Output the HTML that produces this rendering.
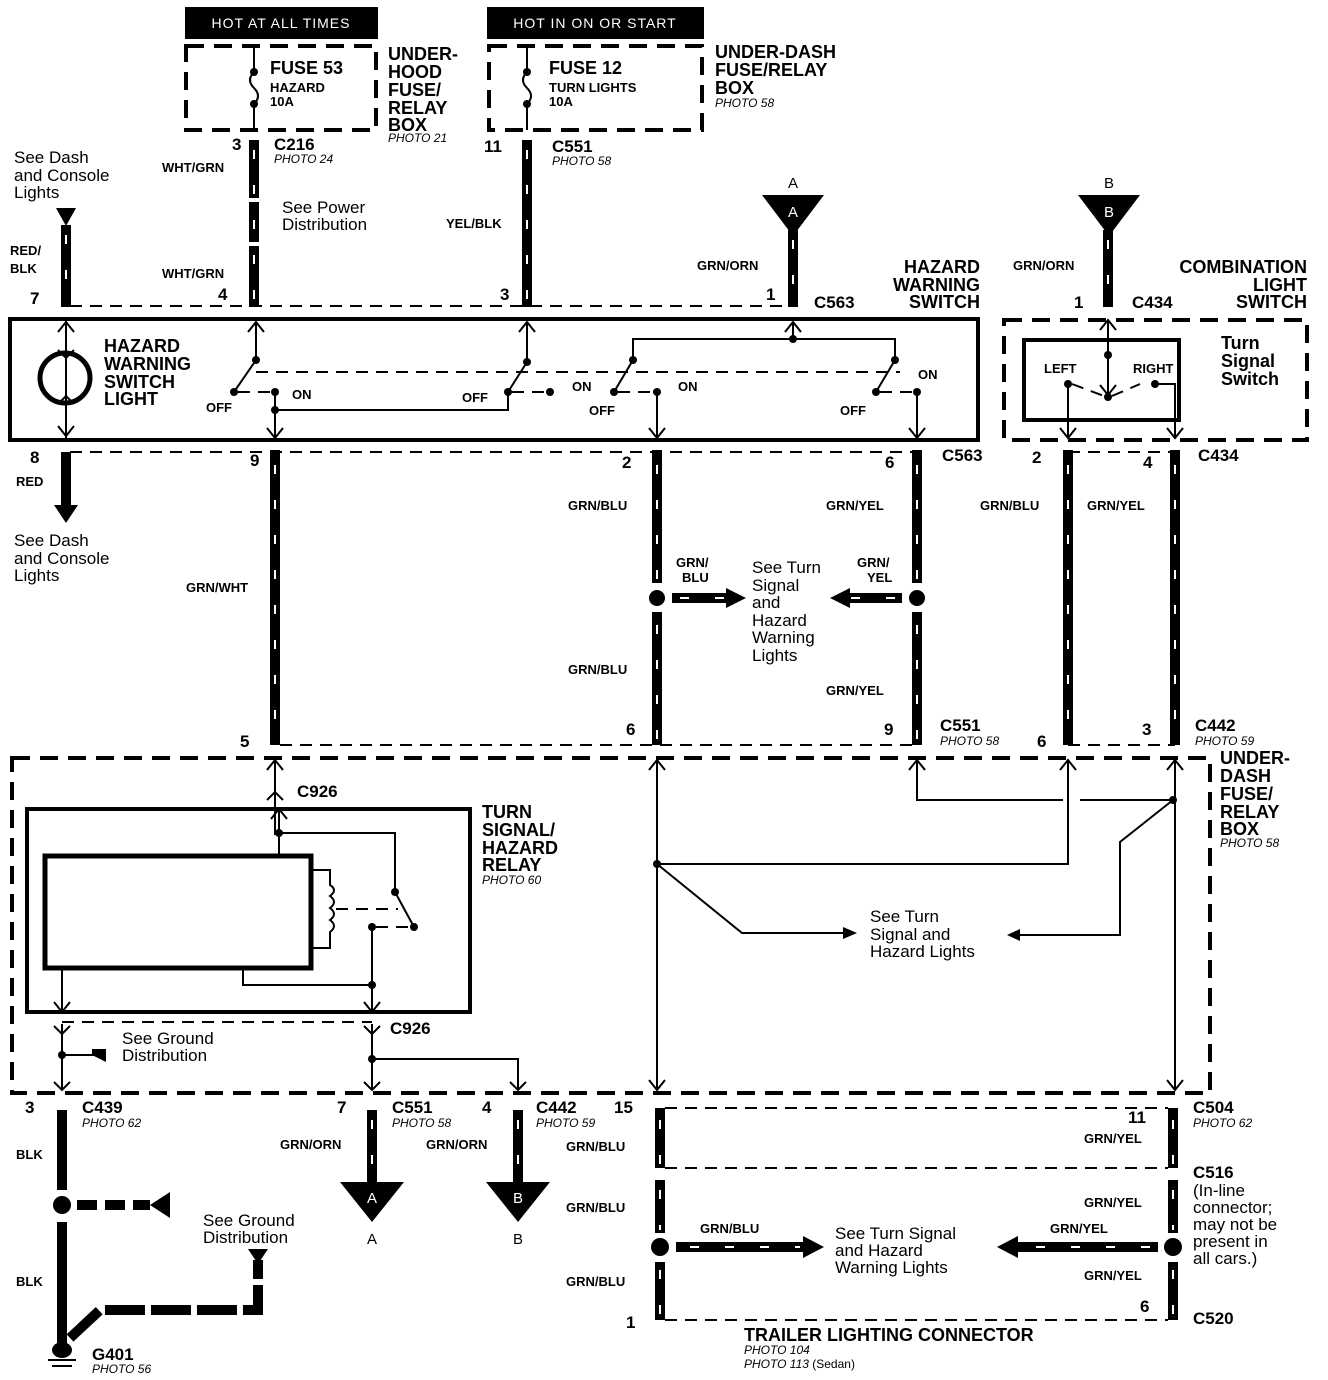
<!DOCTYPE html>
<html><head><meta charset="utf-8"><style>
html,body{margin:0;padding:0;background:#fff;}
svg{display:block;}
text{font-family:"Liberation Sans",Arial,sans-serif;fill:#000;}
.b{font-weight:bold;}
.s{font-size:13px;font-weight:bold;}
.c{font-size:17px;font-weight:bold;}
.p{font-size:12px;font-style:italic;}
.r{font-size:17px;}
.t{font-size:18px;font-weight:bold;}
.w{stroke:#000;stroke-width:10;fill:none;}
.h{stroke:#fff;stroke-width:2;stroke-dasharray:9 26;fill:none;}
.d{stroke:#000;stroke-width:2;stroke-dasharray:12 8;fill:none;}
.bd{stroke:#000;stroke-width:4;stroke-dasharray:18 10;fill:none;}
.l{stroke:#000;stroke-width:2;fill:none;}
</style></head><body>
<svg width="1328" height="1380" viewBox="0 0 1328 1380" xmlns="http://www.w3.org/2000/svg">
<!-- top labels -->
<rect x="185" y="7" width="193" height="32" fill="#000"/>
<text x="281" y="28" text-anchor="middle" font-size="14" style="fill:#fff" letter-spacing="1">HOT AT ALL TIMES</text>
<rect x="487" y="7" width="217" height="32" fill="#000"/>
<text x="595" y="28" text-anchor="middle" font-size="14" style="fill:#fff" letter-spacing="1">HOT IN ON OR START</text>
<rect x="186" y="46" width="190" height="84" class="bd"/>
<rect x="489" y="46" width="213" height="84" class="bd"/>
<path class="l" d="M254 46 V72 Q246 80 254 88 Q262 96 254 104 V130"/>
<circle cx="254" cy="72" r="4"/><circle cx="254" cy="104" r="4"/>
<path class="l" d="M527 46 V72 Q519 80 527 88 Q535 96 527 104 V130"/>
<circle cx="527" cy="72" r="4"/><circle cx="527" cy="104" r="4"/>
<text x="270" y="74" class="t">FUSE 53</text><text x="270" y="92" class="s" font-size="12">HAZARD</text><text x="270" y="106" class="s" font-size="12">10A</text>
<text x="549" y="74" class="t">FUSE 12</text><text x="549" y="92" class="s" font-size="12">TURN LIGHTS</text><text x="549" y="106" class="s" font-size="12">10A</text>
<g class="t"><text x="388" y="60">UNDER-</text><text x="388" y="78">HOOD</text><text x="388" y="96">FUSE/</text><text x="388" y="114">RELAY</text><text x="388" y="131">BOX</text></g>
<text x="388" y="142" class="p">PHOTO 21</text>
<g class="t"><text x="715" y="58">UNDER-DASH</text><text x="715" y="76">FUSE/RELAY</text><text x="715" y="94">BOX</text></g>
<text x="715" y="107" class="p">PHOTO 58</text>

<!-- upper wires -->
<path class="w" d="M66 225 V307"/><path class="h" d="M66 235 V305"/>
<polygon points="56,208 76,208 66,226"/>
<path class="w" d="M254 140 V307"/><path class="h" d="M254 150 V305"/>
<rect x="248" y="198" width="12" height="4" fill="#fff"/><rect x="248" y="242" width="12" height="4" fill="#fff"/>
<path class="w" d="M527 140 V307"/><path class="h" d="M527 150 V305"/>
<path class="w" d="M793 230 V307"/><path class="h" d="M793 240 V305"/>
<polygon points="762,195 824,195 793,236"/><text x="793" y="217" text-anchor="middle" font-size="15" style="fill:#fff">A</text>
<text x="793" y="188" text-anchor="middle" font-size="15">A</text>
<path class="w" d="M1108 230 V307"/><path class="h" d="M1108 240 V305"/>
<polygon points="1078,195 1140,195 1109,236"/><text x="1109" y="217" text-anchor="middle" font-size="15" style="fill:#fff">B</text>
<text x="1109" y="188" text-anchor="middle" font-size="15">B</text>
<text x="14" y="163" class="r">See Dash</text><text x="14" y="181" class="r">and Console</text><text x="14" y="198" class="r">Lights</text>
<text x="10" y="255" class="s">RED/</text><text x="10" y="273" class="s">BLK</text>
<text x="162" y="172" class="s">WHT/GRN</text><text x="162" y="278" class="s">WHT/GRN</text>
<text x="282" y="213" class="r">See Power</text><text x="282" y="230" class="r">Distribution</text>
<text x="446" y="228" class="s">YEL/BLK</text>
<text x="697" y="270" class="s">GRN/ORN</text><text x="1013" y="270" class="s">GRN/ORN</text>
<text x="232" y="150" class="c">3</text><text x="274" y="150" class="c">C216</text><text x="274" y="163" class="p">PHOTO 24</text>
<text x="484" y="152" class="c">11</text><text x="552" y="152" class="c">C551</text><text x="552" y="165" class="p">PHOTO 58</text>
<text x="30" y="304" class="c">7</text><text x="218" y="300" class="c">4</text><text x="500" y="300" class="c">3</text>
<text x="766" y="300" class="c">1</text><text x="814" y="308" class="c">C563</text>
<text x="1074" y="308" class="c">1</text><text x="1132" y="308" class="c">C434</text>
<g class="t" text-anchor="end"><text x="980" y="273">HAZARD</text><text x="980" y="291">WARNING</text><text x="980" y="308">SWITCH</text>
<text x="1307" y="273">COMBINATION</text><text x="1307" y="291">LIGHT</text><text x="1307" y="308">SWITCH</text></g>
<path class="d" d="M70 306 H793"/>
<path class="d" d="M70 452 H917"/>
<path class="d" d="M1068 452 H1175"/>

<!-- hazard switch box -->
<rect x="10" y="319" width="968" height="121" fill="none" stroke="#000" stroke-width="4"/>
<circle cx="65" cy="378" r="25" fill="none" stroke="#000" stroke-width="5"/>
<path class="l" d="M66 319 V440 M58 332 L66 322 L74 332 M58 350 L66 358 L74 350 M58 404 L66 396 L74 404 M58 426 L66 436 L74 426"/>
<text x="104" y="352" class="t">HAZARD</text><text x="104" y="370" class="t">WARNING</text><text x="104" y="388" class="t">SWITCH</text><text x="104" y="405" class="t">LIGHT</text>
<path class="l" d="M256 322 V360 L234 392 M248 332 L256 322 L264 332"/><circle cx="256" cy="360" r="4"/><circle cx="234" cy="392" r="4"/>
<path class="d" d="M238 392 H270"/><circle cx="275" cy="392" r="4"/>
<path class="l" d="M275 392 V438 M267 428 L275 438 L283 428 M275 410 H508 V392"/><circle cx="275" cy="410" r="4"/>
<text x="206" y="412" class="s">OFF</text><text x="292" y="399" class="s">ON</text>
<path class="d" d="M256 372 H900"/>
<path class="l" d="M527 322 V362 L508 392 M519 332 L527 322 L535 332"/><circle cx="527" cy="362" r="4"/><circle cx="508" cy="392" r="4"/>
<path class="d" d="M512 392 H545"/><circle cx="550" cy="392" r="4"/>
<text x="462" y="402" class="s">OFF</text><text x="572" y="391" class="s">ON</text>
<path class="l" d="M793 322 V339 M785 332 L793 322 L801 332 M633 360 V339 H895 V360"/><circle cx="793" cy="339" r="4"/>
<circle cx="633" cy="360" r="4"/><path class="l" d="M633 360 L614 392"/><circle cx="614" cy="392" r="4"/>
<path class="d" d="M618 392 H652"/><circle cx="657" cy="392" r="4"/>
<path class="l" d="M657 392 V438 M649 428 L657 438 L665 428"/>
<text x="589" y="415" class="s">OFF</text><text x="678" y="391" class="s">ON</text>
<circle cx="895" cy="360" r="4"/><path class="l" d="M895 360 L876 392"/><circle cx="876" cy="392" r="4"/>
<path class="d" d="M880 392 H912"/><circle cx="917" cy="392" r="4"/>
<path class="l" d="M917 392 V438 M909 428 L917 438 L925 428"/>
<text x="840" y="415" class="s">OFF</text><text x="918" y="379" class="s">ON</text>

<!-- combination switch -->
<rect x="1004" y="320" width="303" height="120" class="bd"/>
<rect x="1024" y="340" width="155" height="80" fill="none" stroke="#000" stroke-width="4"/>
<path class="l" d="M1108 320 V395 M1100 330 L1108 320 L1116 330 M1100 385 L1108 395 L1116 385"/><circle cx="1108" cy="355" r="4"/><circle cx="1108" cy="397" r="4"/>
<path class="d" d="M1072 384 L1104 396 M1112 396 L1140 384"/>
<circle cx="1068" cy="384" r="4"/><circle cx="1155" cy="384" r="4"/>
<path class="l" d="M1068 384 V438 M1060 428 L1068 438 L1076 428 M1155 384 H1175 V438 M1167 428 L1175 438 L1183 428"/>
<text x="1044" y="373" class="s">LEFT</text><text x="1133" y="373" class="s">RIGHT</text>
<text x="1221" y="349" class="t">Turn</text><text x="1221" y="367" class="t">Signal</text><text x="1221" y="385" class="t">Switch</text>

<!-- middle wires -->
<path class="w" d="M66 452 V508"/><polygon points="54,505 78,505 66,523"/>
<text x="30" y="463" class="c">8</text><text x="16" y="486" class="s">RED</text>
<text x="14" y="546" class="r">See Dash</text><text x="14" y="564" class="r">and Console</text><text x="14" y="581" class="r">Lights</text>
<path class="w" d="M275 450 V745"/><path class="h" d="M275 465 V740"/>
<path class="w" d="M657 450 V583 M657 612 V745"/><path class="h" d="M657 465 V580 M657 625 V740"/>
<circle cx="657" cy="598" r="8"/>
<path class="w" d="M917 450 V583 M917 612 V745"/><path class="h" d="M917 465 V580 M917 625 V740"/>
<circle cx="917" cy="598" r="8"/>
<path class="w" d="M1068 450 V745"/><path class="h" d="M1068 465 V740"/>
<path class="w" d="M1175 450 V745"/><path class="h" d="M1175 465 V740"/>
<path class="w" d="M672 598 H728"/><path class="h" d="M680 598 H725" stroke-dasharray="8 12"/><polygon points="726,588 746,598 726,608"/>
<path class="w" d="M902 598 H848"/><path class="h" d="M895 598 H850" stroke-dasharray="8 12"/><polygon points="850,588 830,598 850,608"/>
<text x="250" y="466" class="c">9</text><text x="622" y="468" class="c">2</text><text x="885" y="468" class="c">6</text><text x="942" y="461" class="c">C563</text>
<text x="1032" y="463" class="c">2</text><text x="1143" y="468" class="c">4</text><text x="1198" y="461" class="c">C434</text>
<text x="568" y="510" class="s">GRN/BLU</text><text x="826" y="510" class="s">GRN/YEL</text>
<text x="980" y="510" class="s">GRN/BLU</text><text x="1087" y="510" class="s">GRN/YEL</text>
<text x="186" y="592" class="s">GRN/WHT</text>
<text x="676" y="567" class="s">GRN/</text><text x="682" y="582" class="s">BLU</text>
<text x="857" y="567" class="s">GRN/</text><text x="867" y="582" class="s">YEL</text>
<text x="752" y="573" class="r">See Turn</text><text x="752" y="591" class="r">Signal</text><text x="752" y="608" class="r">and</text><text x="752" y="626" class="r">Hazard</text><text x="752" y="643" class="r">Warning</text><text x="752" y="661" class="r">Lights</text>
<text x="568" y="674" class="s">GRN/BLU</text><text x="826" y="695" class="s">GRN/YEL</text>
<text x="240" y="747" class="c">5</text><text x="626" y="735" class="c">6</text><text x="884" y="735" class="c">9</text>
<text x="940" y="731" class="c">C551</text><text x="940" y="745" class="p">PHOTO 58</text>
<text x="1037" y="747" class="c">6</text><text x="1142" y="735" class="c">3</text>
<text x="1195" y="731" class="c">C442</text><text x="1195" y="745" class="p">PHOTO 59</text>
<path class="d" d="M280 745 H917"/>
<path class="d" d="M1068 745 H1175"/>

<!-- under-dash box -->
<rect x="12" y="758" width="1198" height="335" class="bd"/>
<g class="t"><text x="1220" y="764">UNDER-</text><text x="1220" y="782">DASH</text><text x="1220" y="800">FUSE/</text><text x="1220" y="818">RELAY</text><text x="1220" y="835">BOX</text></g>
<text x="1220" y="847" class="p">PHOTO 58</text>
<path class="l" d="M275 760 V835 M267 770 L275 760 L283 770 M267 800 L275 792 L283 800"/>
<text x="297" y="797" class="c">C926</text>
<path class="l" d="M657 760 V1090 M649 770 L657 760 L665 770 M649 1080 L657 1090 L665 1080"/>
<path class="l" d="M657 864 H1068 V760 M1060 770 L1068 760 L1076 770"/><circle cx="657" cy="864" r="4"/>
<path class="l" d="M917 760 V800 H1063 M1080 800 H1173 M909 770 L917 760 L925 770"/>
<path class="l" d="M1175 760 V1090 M1167 770 L1175 760 L1183 770 M1167 1080 L1175 1090 L1183 1080"/><circle cx="1173" cy="800" r="4"/>
<path class="l" d="M1173 800 L1120 842 V935 H1018"/><polygon points="1020,929 1007,935 1020,941"/>
<path class="l" d="M657 864 L742 933 H845"/><polygon points="843,927 857,933 843,939"/>
<text x="870" y="922" class="r">See Turn</text><text x="870" y="940" class="r">Signal and</text><text x="870" y="957" class="r">Hazard Lights</text>
<rect x="27" y="809" width="443" height="203" fill="none" stroke="#000" stroke-width="4"/>
<g class="t"><text x="482" y="818">TURN</text><text x="482" y="836">SIGNAL/</text><text x="482" y="854">HAZARD</text><text x="482" y="871">RELAY</text></g>
<text x="482" y="884" class="p">PHOTO 60</text>
<rect x="45" y="856" width="266" height="112" fill="none" stroke="#000" stroke-width="5"/>
<path class="l" d="M279 809 V856 M271 819 L279 809 L287 819 M279 833 H395 V892 L414 927"/><circle cx="279" cy="833" r="4"/><circle cx="395" cy="892" r="4"/><circle cx="414" cy="927" r="4"/>
<path class="l" d="M311 870 H330 V885 Q338 890 330 896 Q338 902 330 908 Q338 914 330 920 Q338 926 330 932 V948 H311"/>
<path class="d" d="M336 909 H398"/>
<circle cx="372" cy="927" r="4"/><path class="d" d="M376 927 H410"/>
<path class="l" d="M372 927 V1012 M243 968 V985 H372 M364 1002 L372 1012 L380 1002"/><circle cx="372" cy="985" r="4"/>
<path class="l" d="M62 968 V1012 M54 1002 L62 1012 L70 1002"/>
<path class="d" d="M62 1022 H372"/>
<path class="l" d="M54 1026 L62 1034 L70 1026 M364 1026 L372 1034 L380 1026 M62 1024 V1090 M372 1024 V1090 M54 1082 L62 1090 L70 1082 M364 1082 L372 1090 L380 1082"/>
<text x="390" y="1034" class="c">C926</text>
<circle cx="62" cy="1055" r="4"/><path class="l" d="M62 1055 H95"/><polygon points="92,1049 106,1049 106,1062 92,1055"/>
<text x="122" y="1044" class="r">See Ground</text><text x="122" y="1061" class="r">Distribution</text>
<path class="l" d="M372 1059 H518 V1090 M510 1082 L518 1090 L526 1082"/><circle cx="372" cy="1059" r="4"/>

<!-- bottom -->
<text x="25" y="1113" class="c">3</text><text x="82" y="1113" class="c">C439</text><text x="82" y="1127" class="p">PHOTO 62</text>
<text x="337" y="1113" class="c">7</text><text x="392" y="1113" class="c">C551</text><text x="392" y="1127" class="p">PHOTO 58</text>
<text x="482" y="1113" class="c">4</text><text x="536" y="1113" class="c">C442</text><text x="536" y="1127" class="p">PHOTO 59</text>
<text x="614" y="1113" class="c">15</text>
<text x="1128" y="1123" class="c">11</text><text x="1193" y="1113" class="c">C504</text><text x="1193" y="1127" class="p">PHOTO 62</text>
<path class="w" d="M62 1110 V1190 M62 1222 V1345"/>
<circle cx="62" cy="1205" r="9"/>
<path class="w" d="M77 1205 H150" stroke-dasharray="20 8"/><polygon points="170,1192 170,1218 150,1205"/>
<path class="w" d="M70 1338 L100 1310 H258 V1260" stroke-dasharray="40 6"/><polygon points="248,1249 268,1249 258,1264"/>
<ellipse cx="62" cy="1350" rx="10" ry="8"/><path class="l" d="M48 1360 H76 M52 1366 H72"/>
<text x="16" y="1159" class="s">BLK</text><text x="16" y="1286" class="s">BLK</text>
<text x="203" y="1226" class="r">See Ground</text><text x="203" y="1243" class="r">Distribution</text>
<text x="92" y="1360" class="c">G401</text><text x="92" y="1373" class="p">PHOTO 56</text>
<path class="w" d="M372 1110 V1185"/><path class="h" d="M372 1120 V1180"/>
<polygon points="340,1182 404,1182 372,1222"/><text x="372" y="1203" text-anchor="middle" font-size="15" style="fill:#fff">A</text>
<text x="372" y="1244" text-anchor="middle" font-size="15">A</text>
<path class="w" d="M518 1110 V1185"/><path class="h" d="M518 1120 V1180"/>
<polygon points="486,1182 550,1182 518,1222"/><text x="518" y="1203" text-anchor="middle" font-size="15" style="fill:#fff">B</text>
<text x="518" y="1244" text-anchor="middle" font-size="15">B</text>
<text x="280" y="1149" class="s">GRN/ORN</text><text x="426" y="1149" class="s">GRN/ORN</text>
<path class="w" d="M660 1108 V1168 M660 1180 V1233 M660 1262 V1320"/><path class="h" d="M660 1120 V1165 M660 1190 V1230 M660 1270 V1318"/>
<circle cx="660" cy="1247" r="9"/>
<path class="w" d="M1173 1108 V1168 M1173 1180 V1233 M1173 1262 V1320"/><path class="h" d="M1173 1120 V1165 M1173 1190 V1230 M1173 1270 V1318"/>
<circle cx="1173" cy="1247" r="9"/>
<path class="d" d="M665 1108 H1168"/><path class="d" d="M665 1168 H1168"/><path class="d" d="M665 1320 H1168"/>
<path class="w" d="M676 1247 H805"/><path class="h" d="M690 1247 H800" stroke-dasharray="8 25"/><polygon points="803,1236 824,1247 803,1258"/>
<path class="w" d="M1158 1247 H1016"/><path class="h" d="M1150 1247 H1020" stroke-dasharray="8 25"/><polygon points="1018,1236 997,1247 1018,1258"/>
<text x="566" y="1151" class="s">GRN/BLU</text><text x="566" y="1212" class="s">GRN/BLU</text><text x="566" y="1286" class="s">GRN/BLU</text>
<text x="700" y="1233" class="s">GRN/BLU</text><text x="1050" y="1233" class="s">GRN/YEL</text>
<text x="1084" y="1143" class="s">GRN/YEL</text><text x="1084" y="1207" class="s">GRN/YEL</text><text x="1084" y="1280" class="s">GRN/YEL</text>
<text x="835" y="1239" class="r">See Turn Signal</text><text x="835" y="1256" class="r">and Hazard</text><text x="835" y="1273" class="r">Warning Lights</text>
<text x="1193" y="1178" class="c">C516</text>
<text x="1193" y="1196" class="r" font-size="16">(In-line</text><text x="1193" y="1213" class="r" font-size="16">connector;</text><text x="1193" y="1230" class="r" font-size="16">may not be</text><text x="1193" y="1247" class="r" font-size="16">present in</text><text x="1193" y="1264" class="r" font-size="16">all cars.)</text>
<text x="626" y="1328" class="c">1</text><text x="1140" y="1312" class="c">6</text><text x="1193" y="1324" class="c">C520</text>
<text x="744" y="1341" class="t">TRAILER LIGHTING CONNECTOR</text>
<text x="744" y="1354" class="p">PHOTO 104</text><text x="744" y="1368" class="p">PHOTO 113 <tspan font-style="normal">(Sedan)</tspan></text>
</svg>
</body></html>
